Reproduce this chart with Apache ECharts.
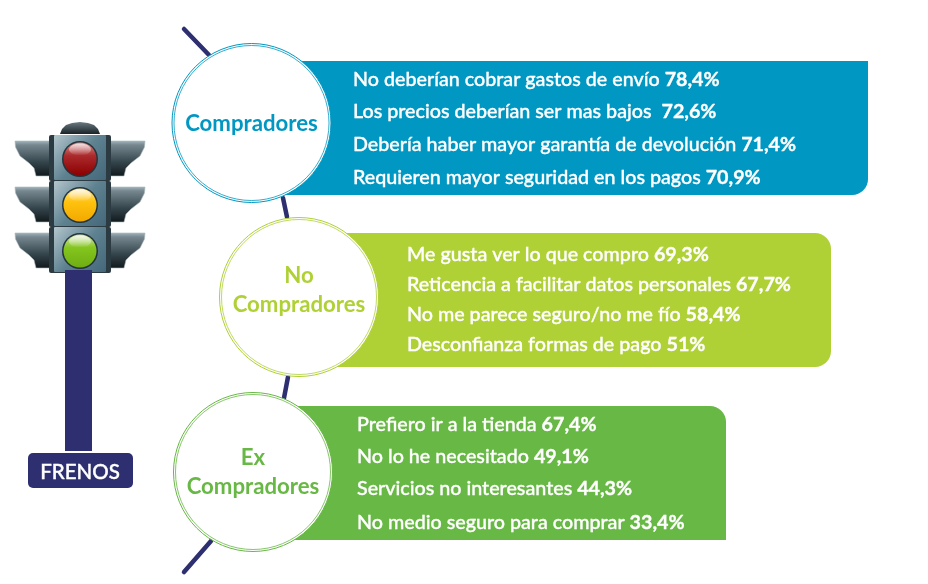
<!DOCTYPE html>
<html>
<head>
<meta charset="utf-8">
<style>
html,body{margin:0;padding:0;background:#fff;}
#main{width:928px;height:584px;}
</style>
<script src="https://cdn.jsdelivr.net/npm/echarts@6/dist/echarts.min.js"></script>
</head>
<body>
<div id="main"></div>
<script>
var groupNames = ['Compradores', 'No\nCompradores', 'Ex\nCompradores'];
var textsCompradores = ['No deberían cobrar gastos de envío', 'Los precios deberían ser mas bajos ', 'Debería haber mayor garantía de devolución', 'Requieren mayor seguridad en los pagos'];
var valuesCompradores = ['78,4%', '72,6%', '71,4%', '70,9%'];
var textsNoCompradores = ['Me gusta ver lo que compro', 'Reticencia a facilitar datos personales', 'No me parece seguro/no me fío', 'Desconfianza formas de pago'];
var valuesNoCompradores = ['69,3%', '67,7%', '58,4%', '51%'];
var textsExCompradores = ['Prefiero ir a la tienda', 'No lo he necesitado', 'Servicios no interesantes', 'No medio seguro para comprar'];
var valuesExCompradores = ['67,4%', '49,1%', '44,3%', '33,4%'];
var footerLabel = 'FRENOS';

var FONT = 'Lato';
var NAVY = '#2d2f70';

// layout of the three blocks (left edge of each panel hides behind its circle)
var blocks = [
	{color: '#0097c2', cx: 251.5, cy: 123, px: 260, py: 61, pw: 608, ph: 134, radius: [0, 0, 16, 0], tx: 353, ys: [80, 112, 145, 178], texts: textsCompradores, values: valuesCompradores},
	{color: '#afd136', cx: 299, cy: 297, px: 320, py: 233, pw: 511, ph: 134, radius: [0, 16, 16, 0], tx: 407, ys: [255, 285, 315, 345], texts: textsNoCompradores, values: valuesNoCompradores},
	{color: '#68b845', cx: 253, cy: 472, px: 270, py: 406, pw: 456, ph: 134, radius: [0, 16, 0, 0], tx: 357, ys: [425, 457, 489, 523], texts: textsExCompradores, values: valuesExCompradores}
];
var connectors = [
	[184, 29, 209, 55],
	[283, 198, 287, 217],
	[288, 377, 284, 398],
	[211, 541, 184, 572]
];

function vgrad(stops){
	return new echarts.graphic.LinearGradient(0, 0, 0, 1, stops);
}

function buildBlocks(){
	var els = [];
	connectors.forEach(function(c){
		els.push({type: 'line', z: 1, shape: {x1: c[0], y1: c[1], x2: c[2], y2: c[3]}, style: {stroke: NAVY, lineWidth: 4.5, lineCap: 'round'}});
	});
	blocks.forEach(function(b, i){
		els.push({type: 'rect', z: 2, shape: {x: b.px, y: b.py, width: b.pw, height: b.ph, r: b.radius}, style: {fill: b.color}});
		els.push({type: 'circle', z: 3, shape: {cx: b.cx, cy: b.cy, r: 79.5}, style: {fill: '#fff', stroke: b.color, lineWidth: 1}});
		els.push({type: 'circle', z: 3, shape: {cx: b.cx, cy: b.cy, r: 77.5}, style: {fill: '#fff', stroke: b.color, lineWidth: 0.8}});
		els.push({type: 'text', z: 4, style: {x: b.cx, y: b.cy + (i === 0 ? 1 : i === 1 ? -7 : 0), text: groupNames[i], fill: b.color, font: 'bold 22.2px ' + FONT, lineHeight: 29, align: 'center', verticalAlign: 'middle'}});
		b.texts.forEach(function(t, k){
			els.push({type: 'text', z: 4, style: {
				x: b.tx, y: b.ys[k], text: '{a|' + t + ' }{b|' + b.values[k] + '}', verticalAlign: 'middle',
				rich: {
					a: {fill: '#fff', stroke: '#fff', lineWidth: 0.35, font: '500 19.7px ' + FONT},
					b: {fill: '#fff', stroke: '#fff', lineWidth: 0.35, font: 'bold 19.7px ' + FONT}
				}
			}});
		});
	});
	return els;
}

function buildLight(){
	var els = [];
	var cx = 80;
	var steel = vgrad([{offset: 0, color: '#a5b5bc'}, {offset: 0.12, color: '#76878f'}, {offset: 0.6, color: '#35454c'}, {offset: 1, color: '#10181c'}]);
	var lamps = [
		{y: 159, top: '#d98c8c', mid: '#ab2a2c', bot: '#8c0000'},
		{y: 205, top: '#ffe9a0', mid: '#ffc20e', bot: '#f2a900'},
		{y: 251, top: '#d6e8b4', mid: '#84c51e', bot: '#6fae12'}
	];
	// dome
	els.push({type: 'polygon', z: 1, shape: {points: [[60, 134], [62, 129], [66, 125], [72, 123], [80, 122], [88, 123], [94, 125], [98, 129], [100, 134]]}, style: {fill: vgrad([{offset: 0, color: '#6a7b82'}, {offset: 1, color: '#1a2327'}])}});
	lamps.forEach(function(l){
		var top = l.y - 18;
		// side visors
		els.push({type: 'polygon', z: 1, shape: {points: [[15, top], [50, top], [50, top + 35], [36, top + 35], [34, top + 27], [29, top + 22], [20, top + 15], [15.5, top + 6]]}, style: {fill: steel, stroke: '#a9b8be', lineWidth: 0.6}});
		els.push({type: 'polygon', z: 1, shape: {points: [[145, top], [110, top], [110, top + 35], [124, top + 35], [126, top + 27], [131, top + 22], [140, top + 15], [144.5, top + 6]]}, style: {fill: steel, stroke: '#a9b8be', lineWidth: 0.6}});
		// housing section
		els.push({type: 'rect', z: 2, shape: {x: 49, y: l.y - 24, width: 62, height: 46, r: 2}, style: {fill: '#2c3a41'}});
		els.push({type: 'rect', z: 2, shape: {x: 54, y: l.y - 24, width: 52, height: 45, r: 1}, style: {fill: new echarts.graphic.LinearGradient(0, 0, 1, 1, [{offset: 0, color: '#b4c6cd'}, {offset: 0.5, color: '#5f8291'}, {offset: 1, color: '#44687a'}])}});
		// lamp
		els.push({type: 'circle', z: 3, shape: {cx: cx, cy: l.y, r: 18}, style: {fill: '#23343c'}});
		els.push({type: 'circle', z: 4, shape: {cx: cx, cy: l.y, r: 16.5}, style: {fill: vgrad([{offset: 0, color: l.top}, {offset: 0.4, color: l.mid}, {offset: 1, color: l.bot}])}});
		// glass highlight
		els.push({type: 'ellipse', z: 4, shape: {cx: cx, cy: l.y - 9.5, rx: 11, ry: 6}, style: {fill: vgrad([{offset: 0, color: 'rgba(255,255,255,0.75)'}, {offset: 1, color: 'rgba(255,255,255,0)'}])}});
	});
	// pole and footer box
	els.push({type: 'rect', z: 5, shape: {x: 65, y: 270, width: 27, height: 181}, style: {fill: NAVY}});
	els.push({type: 'rect', z: 5, shape: {x: 28, y: 453, width: 105, height: 35, r: 5}, style: {fill: NAVY}});
	els.push({type: 'text', z: 6, style: {x: 80, y: 472, text: footerLabel, fill: '#fff', stroke: '#fff', lineWidth: 0.4, font: '500 20.5px ' + FONT, align: 'center', verticalAlign: 'middle'}});
	return els;
}

var chart = echarts.init(document.getElementById('main'));
chart.setOption({
	backgroundColor: '#fff',
	animation: false,
	graphic: {elements: buildLight().concat(buildBlocks())}
});
</script>
</body>
</html>
